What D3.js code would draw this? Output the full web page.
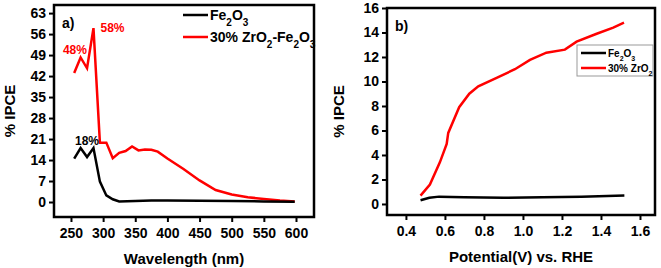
<!DOCTYPE html>
<html>
<head>
<meta charset="utf-8">
<script src="https://cdn.jsdelivr.net/npm/d3@7"></script>
<style>
  body { margin: 0; background: #fff; }
  svg { font-family: "Liberation Sans", Arial, sans-serif; font-weight: bold; }
</style>
</head>
<body>
<svg id="chart" width="661" height="268"></svg>
<script>
// panel a) IPCE vs wavelength
let wlRed = [255, 265, 275, 285, 295, 305, 315, 325, 335, 345, 355, 365, 375, 385, 400, 425, 450, 475, 500, 525, 550, 575, 598]
let ipceRed = [43, 48.2, 44.6, 58, 19.8, 19.8, 14.6, 16.4, 17, 18.5, 17.2, 17.5, 17.4, 16.8, 14.5, 11, 7.2, 4.0, 2.5, 1.6, 1.0, 0.5, 0.2]
let wlBlack = [255, 265, 275, 285, 295, 305, 315, 325, 350, 375, 400, 450, 500, 550, 598]
let ipceBlack = [14.5, 18, 15, 18, 6.8, 2.2, 0.9, 0.2, 0.3, 0.5, 0.5, 0.4, 0.3, 0.2, 0.1]
let xTicksA = [250, 300, 350, 400, 450, 500, 550, 600]
let yTicksA = [0, 7, 14, 21, 28, 35, 42, 49, 56, 63]

// panel b) IPCE vs potential
let vRed = [0.475, 0.523, 0.574, 0.609, 0.617, 0.673, 0.725, 0.771, 0.865, 0.959, 1.036, 1.12, 1.215, 1.275, 1.378, 1.463, 1.518]
let ipceRedB = [0.68, 1.58, 3.4, 4.9, 5.8, 7.9, 9.0, 9.6, 10.3, 11.0, 11.76, 12.35, 12.6, 13.25, 13.9, 14.4, 14.8]
let vBlack = [0.475, 0.52, 0.57, 0.7, 0.9, 1.1, 1.3, 1.52]
let ipceBlackB = [0.3, 0.5, 0.6, 0.55, 0.5, 0.55, 0.6, 0.7]
let xTicksB = [0.4, 0.6, 0.8, 1.0, 1.2, 1.4, 1.6]
let yTicksB = [0, 2, 4, 6, 8, 10, 12, 14, 16]

let svg = d3.select('#chart')

let drawPanel = (opt) => {
    let g = svg.append('g')
    let x = d3.scaleLinear().domain(opt.xDomain).range([opt.left, opt.right])
    let y = d3.scaleLinear().domain(opt.yDomain).range([opt.bottom, opt.top])

    let xAxis = d3.axisBottom(x).tickValues(opt.xTicks).tickSize(5).tickPadding(6).tickFormat(opt.xFmt)
    let yAxis = d3.axisLeft(y).tickValues(opt.yTicks).tickSize(5).tickPadding(3).tickFormat(opt.yFmt)

    let gx = g.append('g').attr('transform', 'translate(0,' + opt.bottom + ')').call(xAxis)
    let gy = g.append('g').attr('transform', 'translate(' + opt.left + ',0)').call(yAxis)
    for (let a of [gx, gy]) {
        a.select('.domain').remove()
        a.selectAll('line').attr('stroke', '#000').attr('stroke-width', 2)
        a.selectAll('text').attr('fill', '#000').style('font-size', '14px').style('font-weight', 'bold')
            .style('font-family', '"Liberation Sans", Arial, sans-serif')
    }

    g.append('rect')
     .attr('x', opt.left).attr('y', opt.top)
     .attr('width', opt.right - opt.left).attr('height', opt.bottom - opt.top)
     .attr('fill', 'none').attr('stroke', '#000').attr('stroke-width', 2.5)

    let line = d3.line().x(d => x(d[0])).y(d => y(d[1]))
    for (let s of opt.series) {
        g.append('path')
         .datum(s.xs.map((v, i) => [v, s.ys[i]]))
         .attr('d', line)
         .attr('fill', 'none')
         .attr('stroke', s.color)
         .attr('stroke-width', 2.5)
         .attr('stroke-linejoin', 'miter')
    }

    g.append('text')
     .attr('x', (opt.left + opt.right) / 2).attr('y', opt.bottom + 47)
     .attr('text-anchor', 'middle').style('font-size', '15px')
     .text(opt.xTitle)

    g.append('text')
     .attr('transform', 'translate(' + opt.yTitleX + ',' + ((opt.top + opt.bottom) / 2) + ') rotate(-90)')
     .attr('text-anchor', 'middle').style('font-size', '15px')
     .text('% IPCE')

    g.append('text')
     .attr('x', opt.left + 8).attr('y', opt.top + 23)
     .style('font-size', '14px')
     .text(opt.tag)

    return { g, x, y }
}

// subscript helper
let chem = (sel, parts, subSize) => {
    for (let p of parts) {
        let t = sel.append('tspan').text(p[0])
        if (p[1]) t.attr('baseline-shift', 'sub').style('font-size', subSize + 'px')
    }
}

let a = drawPanel({
    left: 54, right: 314, top: 5, bottom: 217,
    xDomain: [223.6, 628], yDomain: [-5, 65.7],
    xTicks: xTicksA, yTicks: yTicksA,
    xFmt: d3.format('d'), yFmt: d3.format('d'),
    xTitle: 'Wavelength (nm)', yTitleX: 15, tag: 'a)',
    series: [
        { xs: wlRed, ys: ipceRed, color: '#ff0000' },
        { xs: wlBlack, ys: ipceBlack, color: '#000' }
    ]
})

// peak labels
a.g.append('text').attr('x', a.x(264) + 7).attr('y', a.y(48.2) - 3)
   .attr('text-anchor', 'end').attr('fill', '#ff0000').style('font-size', '12px').text('48%')
a.g.append('text').attr('x', a.x(285) + 7).attr('y', a.y(58) + 4)
   .attr('fill', '#ff0000').style('font-size', '12px').text('58%')
a.g.append('text').attr('x', a.x(275)).attr('y', a.y(18) - 3)
   .attr('text-anchor', 'middle').attr('fill', '#000').style('font-size', '12px').text('18%')

// legend a
let legA = [
    { color: '#000', parts: [['Fe'], ['2', 1], ['O'], ['3', 1]], y: 15 },
    { color: '#ff0000', parts: [['30% ZrO'], ['2', 1], ['-Fe'], ['2', 1], ['O'], ['3', 1]], y: 37 }
]
for (let l of legA) {
    a.g.append('line').attr('x1', 183).attr('x2', 208).attr('y1', l.y).attr('y2', l.y)
       .attr('stroke', l.color).attr('stroke-width', 2.5)
    let t = a.g.append('text').attr('x', 210).attr('y', l.y + 5).style('font-size', '14px')
    chem(t, l.parts, 10)
}

let b = drawPanel({
    left: 387, right: 655, top: 8, bottom: 215,
    xDomain: [0.303, 1.677], yDomain: [-0.9, 16],
    xTicks: xTicksB, yTicks: yTicksB,
    xFmt: d3.format('.1f'), yFmt: d3.format('d'),
    xTitle: 'Potential(V) vs. RHE', yTitleX: 344, tag: 'b)',
    series: [
        { xs: vRed, ys: ipceRedB, color: '#ff0000' },
        { xs: vBlack, ys: ipceBlackB, color: '#000' }
    ]
})

// legend b
b.g.append('rect').attr('x', 577).attr('y', 45).attr('width', 76).attr('height', 31)
   .attr('fill', '#fff').attr('stroke', '#999').attr('stroke-width', 1)
let legB = [
    { color: '#000', parts: [['Fe'], ['2', 1], ['O'], ['3', 1]], y: 53 },
    { color: '#ff0000', parts: [['30% ZrO'], ['2', 1]], y: 68 }
]
for (let l of legB) {
    b.g.append('line').attr('x1', 581).attr('x2', 606).attr('y1', l.y).attr('y2', l.y)
       .attr('stroke', l.color).attr('stroke-width', 2.5)
    let t = b.g.append('text').attr('x', 608).attr('y', l.y + 4).style('font-size', '10px')
    chem(t, l.parts, 7)
}
</script>
</body>
</html>
